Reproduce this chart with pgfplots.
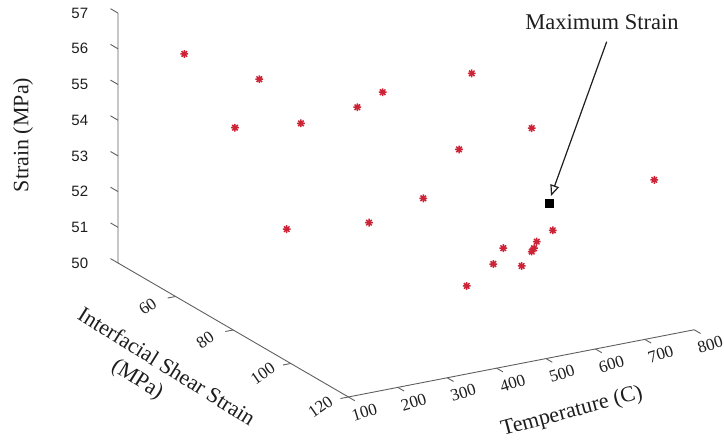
\documentclass[border=0pt]{standalone}
\usepackage{pgfplots}
\pgfplotsset{compat=1.18}
\usepackage{fontspec}
\setmainfont{Liberation Serif}
\newfontfamily\arialf{Liberation Sans}
\usetikzlibrary{arrows.meta}
\definecolor{ptred}{RGB}{205,35,55}
\definecolor{axgray}{RGB}{95,95,95}
\definecolor{txt}{RGB}{30,30,30}
\pgfdeclareplotmark{star8}{%
  \pgfpathmoveto{\pgfpoint{-\pgfplotmarksize}{0pt}}\pgfpathlineto{\pgfpoint{\pgfplotmarksize}{0pt}}%
  \pgfpathmoveto{\pgfpoint{0pt}{-\pgfplotmarksize}}\pgfpathlineto{\pgfpoint{0pt}{\pgfplotmarksize}}%
  \pgfpathmoveto{\pgfpoint{-0.707\pgfplotmarksize}{-0.707\pgfplotmarksize}}\pgfpathlineto{\pgfpoint{0.707\pgfplotmarksize}{0.707\pgfplotmarksize}}%
  \pgfpathmoveto{\pgfpoint{-0.707\pgfplotmarksize}{0.707\pgfplotmarksize}}\pgfpathlineto{\pgfpoint{0.707\pgfplotmarksize}{-0.707\pgfplotmarksize}}%
  \pgfusepathqstroke}

\begin{document}
\begin{tikzpicture}
\begin{axis}[
  disabledatascaling,
  x={(0.494pt,0.096pt)}, y={(2.88pt,-1.675pt)}, z={(0pt,35.7pt)},
  xmin=100,xmax=800,ymin=40,ymax=120,zmin=50,zmax=57,
  hide axis, clip=false,
]
\coordinate (O) at (axis cs:100,40,50);
\coordinate (TL) at ([shift={(-118pt,263pt)}]axis cs:100,40,50);
\coordinate (BR) at ([shift={(606pt,-178pt)}]axis cs:100,40,50);
% axis lines
\draw[axgray, line width=0.9pt] (axis cs:100,40,57) -- (axis cs:100,40,50) -- (axis cs:100,120,50) -- (axis cs:800,120,50);
% z ticks
\pgfplotsinvokeforeach{50,51,52,53,54,55,56,57}{
  \draw[axgray, line width=0.9pt] (axis cs:100,40,#1) -- (axis cs:100,37.4,#1);
  \node[font=\arialf\fontsize{15}{15}\selectfont, text=txt, anchor=east, inner sep=0pt] at ([xshift=-29.7pt]axis cs:100,40,#1) {#1};
}
% y ticks
\pgfplotsinvokeforeach{60,80,100,120}{
  \draw[axgray, line width=0.9pt] (axis cs:100,#1,50) -- (axis cs:84,#1,50);
  \node[font=\fontsize{17}{17}\selectfont, text=txt, rotate=35, inner sep=0pt] at ([shift={(-28pt,-10pt)}]axis cs:100,#1,50) {#1};
}
% x ticks
\pgfplotsinvokeforeach{100,200,300,400,500,600,700,800}{
  \draw[axgray, line width=0.9pt] (axis cs:#1,120,50) -- (axis cs:#1,122.2,50);
  \node[font=\fontsize{17}{17}\selectfont, text=txt, rotate=17, inner sep=0pt] at ([shift={(16pt,-15pt)}]axis cs:#1,120,50) {#1};
}
% data
\addplot3[only marks, mark=star8, mark size=3.9pt, ptred, mark options={line width=1.5pt}] coordinates {
(175.9,50,56.12)
(269.4,60,55.63)
(161.9,70,55.03)
(237.2,80,55.42)
(292.9,90,56.19)
(460.9,70,55.22)
(582.8,80,55.89)
(440.5,100,55.08)
(587.7,100,55.28)
(309.9,110,54.53)
(150.0,90,53.16)
(258.3,100,53.52)
(777.5,110,53.79)
(572.0,110,52.93)
(539.5,110,52.70)
(534.0,110,52.53)
(529.4,110,52.45)
(471.9,110,52.70)
(451.6,110,52.31)
(509.1,110,52.10)
(397.8,110,51.84)
};
\addplot3[only marks, mark=square*, mark size=4.3pt, black] coordinates {(622.7,100,53.08)};
% labels
\node[font=\fontsize{22}{26}\selectfont, text=txt, rotate=90] at ([shift={(-95pt,128pt)}]O) {Strain (MPa)};
\node[font=\fontsize{22}{26}\selectfont, text=txt, rotate=-32] at ([shift={(49pt,-103pt)}]O) {Interfacial Shear Strain};
\node[font=\fontsize{22}{26}\selectfont, text=txt, rotate=-32] at ([shift={(19pt,-117pt)}]O) {(MPa)};
\node[font=\fontsize{22}{26}\selectfont, text=txt, rotate=15] at ([shift={(454pt,-149pt)}]O) {Temperature (C)};
\node[font=\fontsize{22.5}{26}\selectfont, text=txt] at ([shift={(484pt,241pt)}]O) {Maximum Strain};
\draw[line width=1.2pt, txt, -{Triangle[open, length=11pt, width=9pt, line width=1.2pt]}] ([shift={(488.7pt,221.3pt)}]O) -- ([shift={(433pt,67pt)}]O);
\end{axis}
\pgfresetboundingbox
\path[use as bounding box] (TL) rectangle (BR);
\end{tikzpicture}
\end{document}
